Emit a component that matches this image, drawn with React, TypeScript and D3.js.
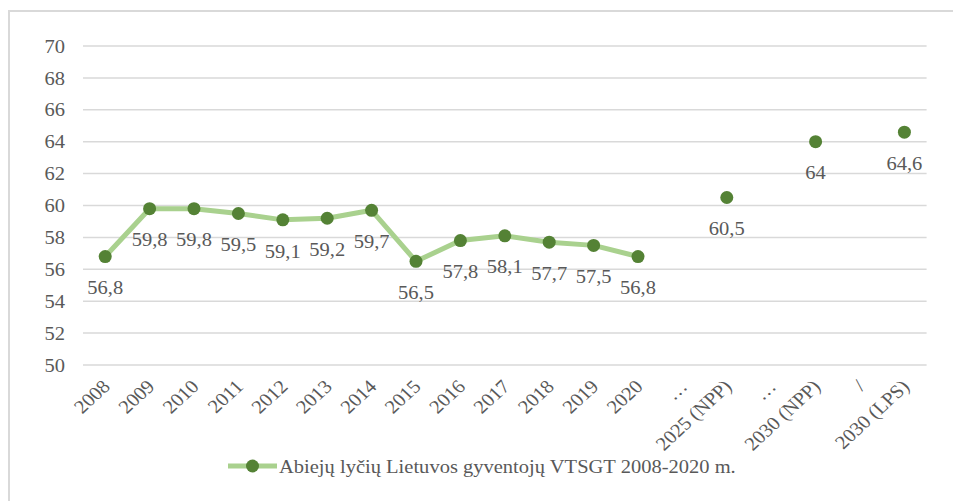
import React, { useEffect, useRef } from 'react'
import * as d3 from 'd3'

const categories = ['2008', '2009', '2010', '2011', '2012', '2013', '2014', '2015', '2016', '2017', '2018', '2019', '2020',
  '…', '2025 (NPP)', '…', '2030 (NPP)', '/', '2030 (LPS)']
const values: (number | null)[] = [56.8, 59.8, 59.8, 59.5, 59.1, 59.2, 59.7, 56.5, 57.8, 58.1, 57.7, 57.5, 56.8,
  null, 60.5, null, 64, null, 64.6]
const yTicks = [50, 52, 54, 56, 58, 60, 62, 64, 66, 68, 70]
const seriesName = 'Abiejų lyčių Lietuvos gyventojų VTSGT 2008-2020 m.'

const width = 953, height = 501
const lineColor = '#a9d18e'
const markerColor = '#548235'
const textColor = '#595959'
const gridColor = '#d9d9d9'
const font = '"Liberation Serif", "Times New Roman", serif'
// the source picture is a bit stretched sideways
const sx = 1.08
const fs = '19px'

const App = () => {
  const ref = useRef<SVGSVGElement>(null)

  useEffect(() => {
    const svg = d3.select(ref.current)
    svg.selectAll('*').remove()

    const x = d3.scaleBand().domain(categories.map((c, i) => i + '')).range([83, 926.6])
    const y = d3.scaleLinear().domain([50, 70]).range([365, 46])
    const cx = (i: number) => x(i + '')! + x.bandwidth() / 2

    // outer frame
    svg.append('rect')
      .attr('x', 9).attr('y', 11)
      .attr('width', 960).attr('height', 520)
      .attr('fill', 'white')
      .attr('stroke', gridColor).attr('stroke-width', 2)

    // grid + y labels
    svg.append('g').selectAll('line')
      .data(yTicks).enter().append('line')
      .attr('x1', 83).attr('x2', 926.6)
      .attr('y1', d => y(d)).attr('y2', d => y(d))
      .attr('stroke', gridColor).attr('stroke-width', 1.5)

    svg.append('g').selectAll('text')
      .data(yTicks).enter().append('text')
      .attr('transform', d => `translate(65,${y(d)}) scale(${sx},1)`)
      .attr('dy', '0.35em')
      .attr('text-anchor', 'end')
      .style('font-family', font).style('font-size', fs)
      .attr('fill', textColor)
      .text(d => d)

    // x labels
    svg.append('g').selectAll('text')
      .data(categories).enter().append('text')
      .attr('transform', (d, i) => `translate(${cx(i) + 1},${383}) scale(${sx},1) rotate(-45)`)
      .attr('dy', '0.35em')
      .attr('text-anchor', 'end')
      .style('font-family', font).style('font-size', fs)
      .attr('fill', textColor)
      .text(d => d)

    // line
    const line = d3.line<number | null>()
      .defined(d => d != null)
      .x((d, i) => cx(i))
      .y(d => y(d as number))
    svg.append('path')
      .datum(values)
      .attr('d', line)
      .attr('fill', 'none')
      .attr('stroke', lineColor)
      .attr('stroke-width', 5)
      .attr('stroke-linejoin', 'round')

    const pts = values.map((v, i) => ({ v, i })).filter(d => d.v != null)

    svg.append('g').selectAll('circle')
      .data(pts).enter().append('circle')
      .attr('cx', d => cx(d.i)).attr('cy', d => y(d.v as number))
      .attr('r', 6.5)
      .attr('fill', markerColor)

    svg.append('g').selectAll('text')
      .data(pts).enter().append('text')
      .attr('transform', d => `translate(${cx(d.i)},${y(d.v as number) + 31}) scale(${sx},1)`)
      .attr('dy', '0.35em')
      .attr('text-anchor', 'middle')
      .style('font-family', font).style('font-size', fs)
      .attr('fill', textColor)
      .text(d => String(d.v).replace('.', ','))

    // legend
    const lg = svg.append('g').attr('transform', 'translate(228,466)')
    lg.append('line').attr('x1', 0).attr('x2', 49).attr('y1', 0).attr('y2', 0)
      .attr('stroke', lineColor).attr('stroke-width', 5)
    lg.append('circle').attr('cx', 24.5).attr('cy', 0).attr('r', 6.5).attr('fill', markerColor)
    lg.append('text').attr('transform', `translate(51,0) scale(${sx},1)`).attr('dy', '0.35em')
      .style('font-family', font).style('font-size', fs)
      .attr('fill', textColor)
      .text(seriesName)
  }, [])

  return (
    <svg ref={ref} width={width} height={height}
      style={{ position: 'absolute', left: 0, top: 0, background: 'white' }} />
  )
}

export default App
